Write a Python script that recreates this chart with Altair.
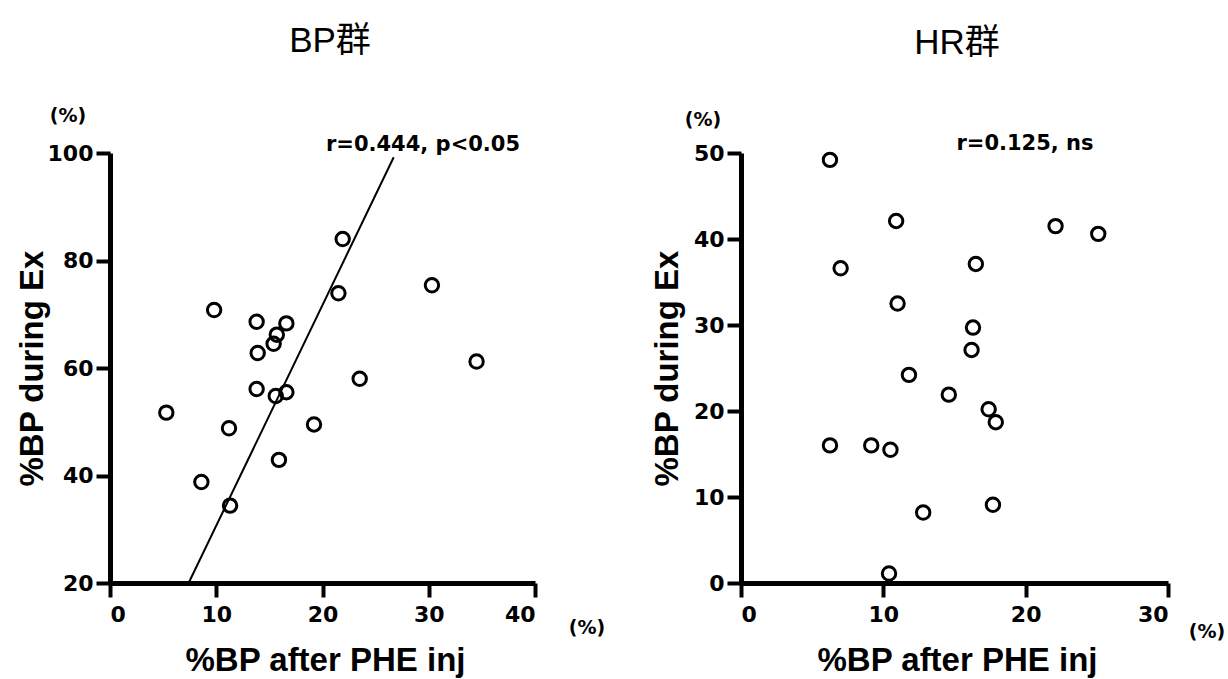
import altair as alt
import pandas as pd

# ---- data ----
bp_x = [21.9, 21.5, 30.3, 9.8, 13.8, 16.6, 15.7, 15.4, 13.9, 34.5,
        23.5, 13.8, 16.6, 15.6, 5.3, 11.2, 19.2, 15.9, 8.6, 11.3]
bp_y = [84.0, 73.9, 75.4, 70.8, 68.6, 68.3, 66.2, 64.5, 62.8, 61.2,
        58.0, 56.1, 55.5, 54.8, 51.7, 48.8, 49.5, 42.9, 38.8, 34.4]
bp_fit_x = [7.4, 26.7]
bp_fit_y = [20.0, 99.2]

hr_x = [6.25, 10.9, 22.1, 25.1, 7.0, 16.5, 11.0, 16.3, 16.2, 11.8,
        14.6, 17.4, 17.9, 6.25, 9.15, 10.5, 12.8, 17.7, 10.4]
hr_y = [49.2, 42.1, 41.5, 40.6, 36.6, 37.1, 32.5, 29.7, 27.1, 24.2,
        21.9, 20.2, 18.7, 16.0, 16.0, 15.5, 8.2, 9.1, 1.1]

bp_title = "BP群"
hr_title = "HR群"
bp_note = "r=0.444, p<0.05"
hr_note = "r=0.125, ns"
x_title = "%BP after PHE inj"
y_title = "%BP during Ex"
unit = "(%)"

bp_xticks = [0, 10, 20, 30, 40]
bp_yticks = [20, 40, 60, 80, 100]
hr_xticks = [0, 10, 20, 30]
hr_yticks = [0, 10, 20, 30, 40, 50]

TICK_FONT = "DejaVu Sans"
TITLE_FONT = "Liberation Sans"


def axis(values, title, is_y, tx, ty):
    kw = dict(
        values=values, title=title, grid=False,
        domainColor="black", domainWidth=5,
        tickColor="black", tickWidth=4, tickSize=14,
        labelFont=TICK_FONT, labelFontWeight="bold", labelFontSize=22,
        labelColor="black",
        titleFont=TITLE_FONT, titleFontWeight="bold", titleFontSize=33,
        titleColor="black", titleX=tx, titleY=ty, titleAlign="center",
    )
    if is_y:
        kw.update(labelPadding=3, titleAngle=270, titleBaseline="middle")
    else:
        kw.update(labelPadding=7, titleAngle=0, titleBaseline="alphabetic")
    return alt.Axis(**kw)


def text_layer(txt, x, y, font, size, weight="bold", baseline="middle"):
    return alt.Chart(pd.DataFrame({"t": [txt]})).mark_text(
        font=font, fontSize=size, fontWeight=weight, color="black",
        align="center", baseline=baseline,
    ).encode(x=alt.value(x), y=alt.value(y), text="t:N")


def panel(xs, ys, xdom, ydom, xticks, yticks, w, h, title, note,
          title_dx, title_y, note_dx, note_y, yunit_pos, xunit_pos,
          ytitle_x, xtitle_x, fit=None, anchor=None):
    df = pd.DataFrame({"x": xs, "y": ys})
    xs_ = alt.Scale(domain=xdom, nice=False, zero=False)
    ys_ = alt.Scale(domain=ydom, nice=False, zero=False)
    pts = alt.Chart(df).mark_point(
        shape="circle", filled=False, size=180, strokeWidth=3, color="black", opacity=1
    ).encode(
        x=alt.X("x:Q", scale=xs_, axis=axis(xticks, x_title, False, xtitle_x, 87)),
        y=alt.Y("y:Q", scale=ys_, axis=axis(yticks, y_title, True, ytitle_x, h / 2)),
    )
    layers = [pts]
    if fit is not None:
        fdf = pd.DataFrame({"x": fit[0], "y": fit[1]})
        layers.append(
            alt.Chart(fdf).mark_line(color="black", strokeWidth=2).encode(
                x=alt.X("x:Q", scale=xs_), y=alt.Y("y:Q", scale=ys_)
            )
        )
    layers.append(text_layer(title, title_dx, title_y, "Liberation Sans, Noto Sans CJK JP", 35,
                             weight="normal", baseline="alphabetic"))
    layers.append(text_layer(note, note_dx, note_y, TICK_FONT, 21, baseline="alphabetic"))
    layers.append(text_layer(unit, yunit_pos[0], yunit_pos[1], TICK_FONT, 19))
    layers.append(text_layer(unit, xunit_pos[0], xunit_pos[1], TICK_FONT, 19))
    if anchor is not None:
        layers.append(
            alt.Chart(pd.DataFrame({"a": [0]})).mark_rule(opacity=0, strokeWidth=0.1).encode(
                x=alt.value(anchor[0]), x2=alt.value(anchor[0]),
                y=alt.value(anchor[1]), y2=alt.value(anchor[1])
            )
        )
    return alt.layer(*layers).properties(width=w, height=h)


left = panel(bp_x, bp_y, [0, 40], [20, 100], bp_xticks, bp_yticks, 425, 430,
             bp_title, bp_note, 220, -101, 313, -2, (-42, -37), (477, 475),
             -78, 215, fit=(bp_fit_x, bp_fit_y), anchor=(-110, -153))
right = panel(hr_x, hr_y, [0, 30], [0, 50], hr_xticks, hr_yticks, 427, 430,
              hr_title, hr_note, 216, -99, 284, -3, (-38, -33), (466, 479),
              -74, 216, anchor=(487, 526))

chart = alt.hconcat(left, right, spacing=206, bounds="flush").properties(
    padding=0, background="white"
).configure_view(stroke=None)

chart.save("out.html", embed_options={"renderer": "svg", "actions": False})
